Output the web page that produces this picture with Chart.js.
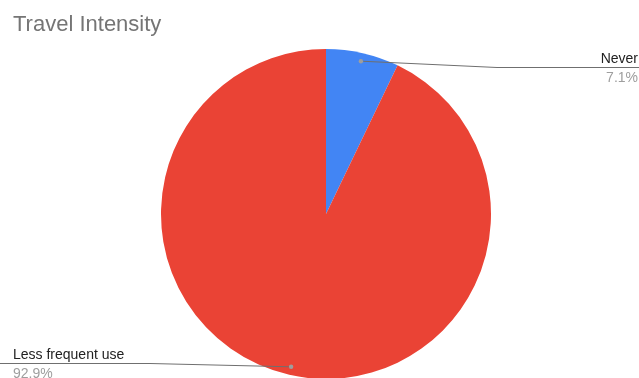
<!DOCTYPE html>
<html>
<head>
<meta charset="utf-8">
<script src="https://cdn.jsdelivr.net/npm/chart.js@4.4.1/dist/chart.umd.min.js"></script>
<style>
  html, body { margin: 0; padding: 0; background: #fff; }
  #wrap { width: 639px; height: 378px; position: relative; }
</style>
</head>
<body>
<div id="wrap"><canvas id="pieChart"></canvas></div>
<script>
const chartTitle = 'Travel Intensity';
const categories = ['Never', 'Less frequent use'];
const counts = [1, 13];
const sliceColors = ['#4285F4', '#EA4335'];

const total = counts.reduce((a, b) => a + b, 0);
const pctLabels = counts.map(v => (v / total * 100).toFixed(1) + '%');

// callouts: where the text sits and where the line bends
const calloutStyle = [
    { side: 'right', textX: 638, lineY: 67, bendX: 497 },
    { side: 'left', textX: 13, lineY: 363, bendX: 150 }
];

const labelPlugin = {
    id: 'sheetLabels',
    afterDraw(chart) {
        const ctx = chart.ctx;
        ctx.save();
        // title
        ctx.fillStyle = '#757575';
        ctx.font = '22px "Liberation Sans", Arial, sans-serif';
        ctx.textBaseline = 'alphabetic';
        ctx.textAlign = 'left';
        ctx.fillText(chartTitle, 13, 31);

        const meta = chart.getDatasetMeta(0);
        meta.data.forEach((arc, i) => {
            const mid = (arc.startAngle + arc.endAngle) / 2;
            const r = arc.outerRadius * 0.95;
            const px = arc.x + Math.cos(mid) * r;
            const py = arc.y + Math.sin(mid) * r;
            const c = calloutStyle[i];
            const endX = c.side === 'right' ? chart.width : 0;

            ctx.strokeStyle = '#6f6f6f';
            ctx.lineWidth = 1;
            ctx.beginPath();
            ctx.moveTo(px, py);
            ctx.lineTo(c.bendX, c.lineY + 0.5);
            ctx.lineTo(endX, c.lineY + 0.5);
            ctx.stroke();

            ctx.fillStyle = '#9e9e9e';
            ctx.beginPath();
            ctx.arc(px, py, 2.2, 0, Math.PI * 2);
            ctx.fill();

            ctx.textAlign = c.side === 'right' ? 'right' : 'left';
            ctx.font = '14px "Liberation Sans", Arial, sans-serif';
            ctx.fillStyle = '#222222';
            ctx.fillText(categories[i], c.textX, c.lineY - 4);
            ctx.fillStyle = '#9e9e9e';
            ctx.fillText(pctLabels[i], c.textX, c.lineY + 15);
        });
        ctx.restore();
    }
};

new Chart(document.getElementById('pieChart'), {
    type: 'pie',
    data: {
        labels: categories,
        datasets: [{
            data: counts,
            backgroundColor: sliceColors,
            borderWidth: 0
        }]
    },
    options: {
        responsive: true,
        maintainAspectRatio: false,
        animation: false,
        radius: 165,
        layout: { padding: { top: 50, left: 13, right: 0, bottom: 0 } },
        plugins: {
            legend: { display: false },
            tooltip: { enabled: false },
            title: { display: false }
        }
    },
    plugins: [labelPlugin]
});
</script>
</body>
</html>
